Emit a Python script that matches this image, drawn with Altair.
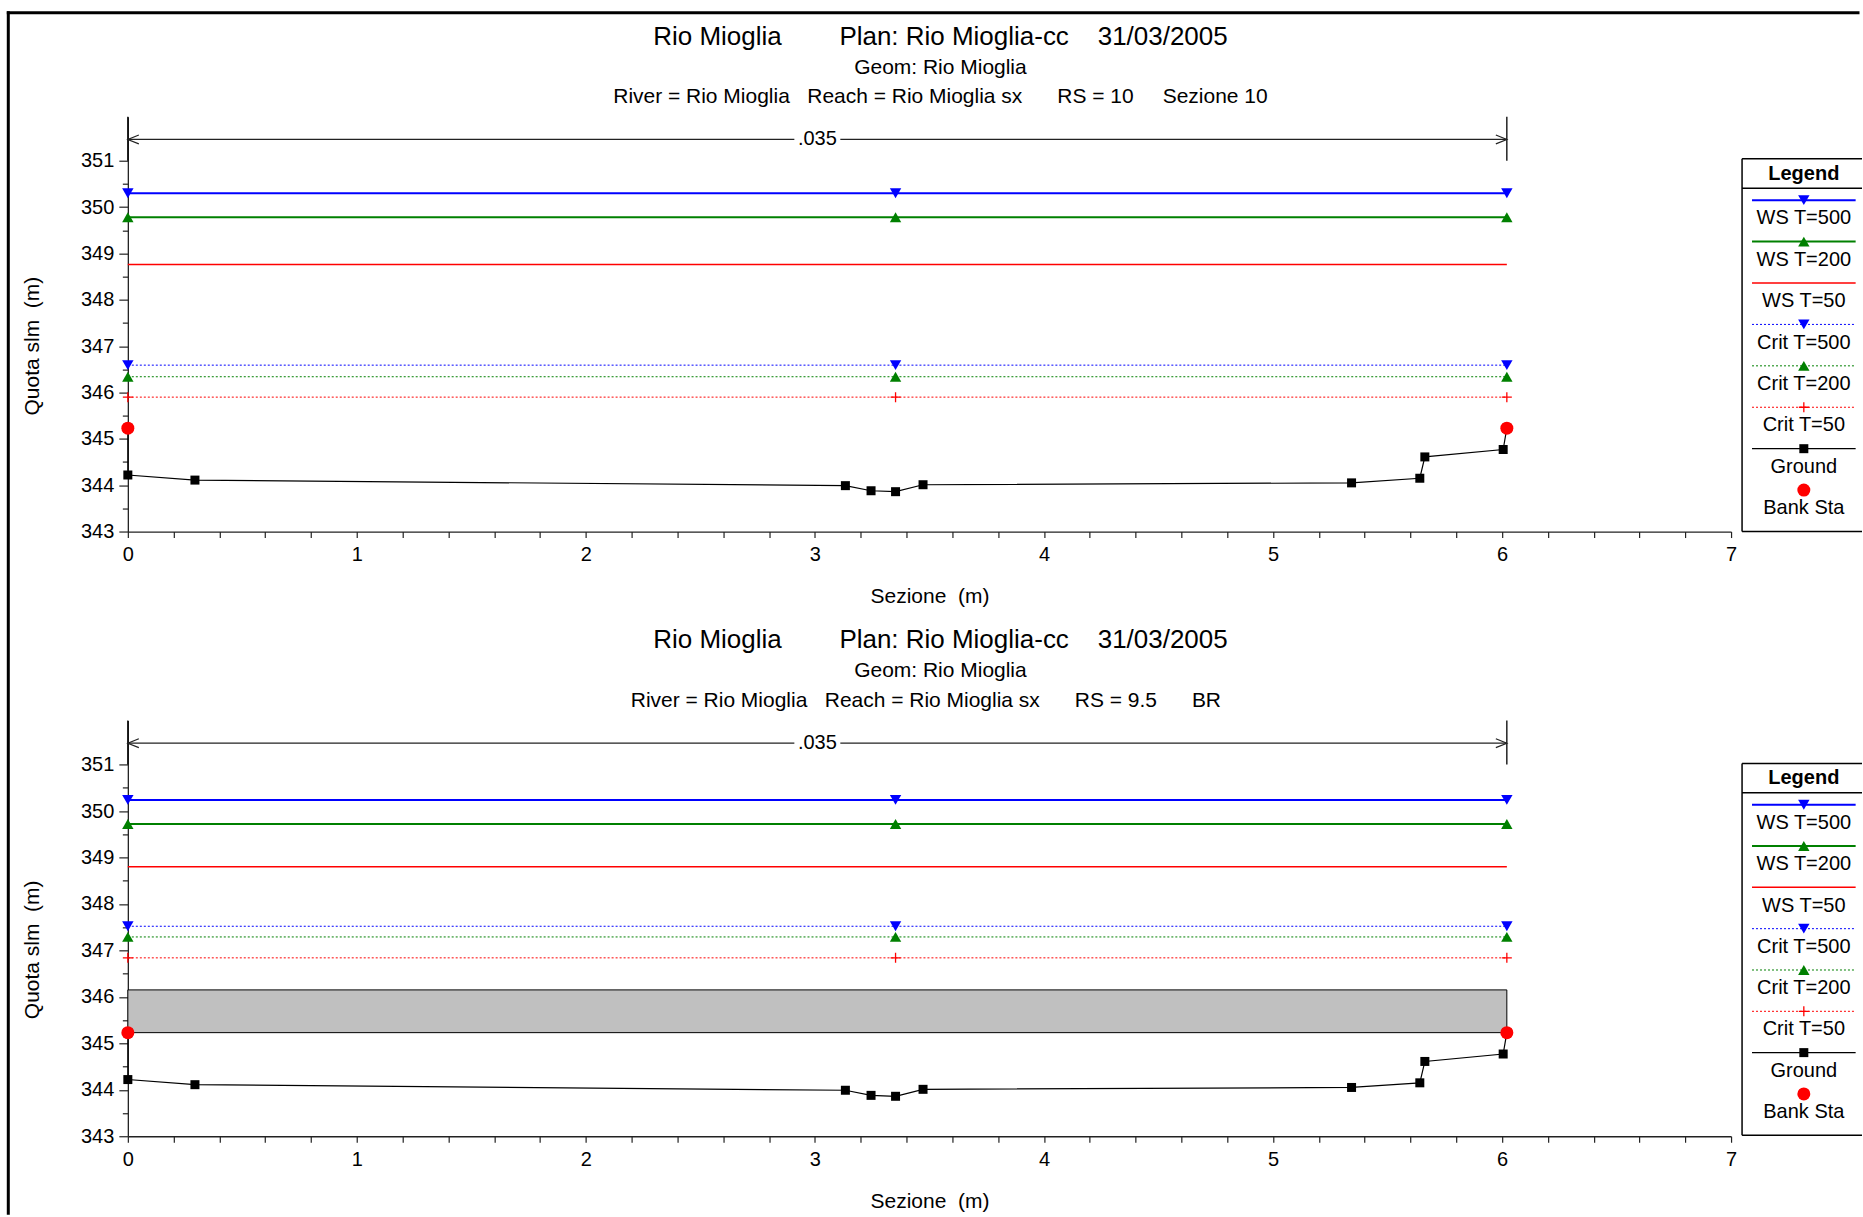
import altair as alt
import pandas as pd

FONT = "Liberation Sans"
NB = "\u00a0"
ZW = "\u200b"

# ---------------------------------------------------------------------------
# Cross-section data: stations (m) and elevations (m a.s.l.)
# ---------------------------------------------------------------------------
ground_sta = [0.0, 0.0, 0.293, 3.133, 3.245, 3.352, 3.472, 5.343, 5.641, 5.663, 6.005, 6.021]
ground_elev = [345.23, 344.22, 344.11, 343.99, 343.88, 343.86, 344.01, 344.05, 344.15, 344.61, 344.77, 345.23]

bank_sta = [0.0, 6.021]
bank_elev = [345.23, 345.23]

# stations where the profile symbols are placed
symbol_sta = [0.0, 3.352, 6.021]

profiles = ["WS T=500", "WS T=200", "WS T=50", "Crit T=500", "Crit T=200", "Crit T=50"]
elev_rs10 = [350.30, 349.78, 348.76, 346.59, 346.34, 345.90]
elev_rs95 = [350.24, 349.72, 348.80, 347.52, 347.29, 346.84]

# bridge deck at RS 9.5: low chord / high chord
deck_sta = [0.0, 6.021]
deck_elev = [345.23, 346.15]

# Manning's n zone
manning_n = ".035"
manning_sta = [0.0, 6.021]
manning_elev = 351.46
manning_bar_low = 351.0

legend_names = profiles + ["Ground", "Bank Sta"]

title_main = "Rio Mioglia" + NB * 8 + "Plan: Rio Mioglia-cc" + NB * 4 + "31/03/2005"
title_geom = "Geom: Rio Mioglia"
title_rs10 = ("River = Rio Mioglia" + NB * 3 + "Reach = Rio Mioglia sx" + NB * 6
              + "RS = 10" + NB * 5 + "Sezione 10")
title_rs95 = ("River = Rio Mioglia" + NB * 3 + "Reach = Rio Mioglia sx" + NB * 6
              + "RS = 9.5" + NB * 6 + "BR" + NB * 5 + ZW)

# ---------------------------------------------------------------------------
# Styles
# ---------------------------------------------------------------------------
PLUS = "M-1,0L1,0M0,-1L0,1"
STYLE = {
    "WS T=500": dict(color="#0000ff", width=2.0, dash=None, shape="triangle-down", size=130),
    "WS T=200": dict(color="#008000", width=2.0, dash=None, shape="triangle-up", size=130),
    "WS T=50": dict(color="#ff0000", width=1.5, dash=None, shape=None, size=0),
    "Crit T=500": dict(color="#0000ff", width=1.0, dash=[2, 2], shape="triangle-down", size=130),
    "Crit T=200": dict(color="#008000", width=1.0, dash=[2, 2], shape="triangle-up", size=130),
    "Crit T=50": dict(color="#ff0000", width=1.0, dash=[2, 2], shape=PLUS, size=100),
    "Ground": dict(color="black", width=1.2, dash=None, shape="square", size=81),
    "Bank Sta": dict(color="#ff0000", width=0, dash=None, shape="circle", size=169),
}


def symbol_props(name):
    st = STYLE[name]
    if st["shape"] == PLUS:
        return dict(shape=PLUS, filled=False, color=st["color"], strokeWidth=1.3,
                    size=st["size"], opacity=1)
    return dict(shape=st["shape"], filled=True, color=st["color"], size=st["size"],
                opacity=1, strokeWidth=0)


def line_props(name):
    st = STYLE[name]
    kw = dict(color=st["color"], strokeWidth=st["width"])
    if st["dash"]:
        kw["strokeDash"] = st["dash"]
    return kw


# ---------------------------------------------------------------------------
# Scales and axes of the section plots
# ---------------------------------------------------------------------------
PLOT_W = 1604
X_DOMAIN = [0, 7]
Y_DOMAIN = [343, 351.95]
x_ticks = [round(0.2 * i, 1) for i in range(36)]
y_ticks = [343 + 0.5 * i for i in range(17)]

X_SCALE = alt.Scale(domain=X_DOMAIN, nice=False, zero=False)
Y_SCALE = alt.Scale(domain=Y_DOMAIN, nice=False, zero=False)

AXIS_STYLE = dict(
    grid=False, labelFlush=False, labelOverlap=False,
    domainColor="#222", domainWidth=1.3, tickColor="#222", tickWidth=1.2,
    labelFont=FONT, labelFontSize=20, labelColor="black",
    titleFont=FONT, titleFontSize=21, titleFontWeight="normal", titleColor="black",
    titleAlign="center", titleBaseline="middle",
)
X_AXIS = alt.Axis(
    title="Sezione" + NB * 2 + "(m)", values=x_ticks,
    labelExpr="datum.value % 1 === 0 ? format(datum.value, 'd') : ''",
    tickSize=6, labelPadding=7, titleX=PLOT_W / 2, titleY=65, **AXIS_STYLE,
)
Y_AXIS = alt.Axis(
    title="Quota slm" + NB * 2 + "(m)", values=y_ticks,
    labelExpr="datum.value % 1 === 0 ? format(datum.value, 'd') : ''",
    tickSize={"condition": {"test": "datum.value % 1 === 0", "value": 9}, "value": 5.5},
    labelPadding=5, titleX=-95, titleY=229, **AXIS_STYLE,
)


def xq(field):
    return alt.X(field, type="quantitative", scale=X_SCALE, axis=X_AXIS)


def yq(field):
    return alt.Y(field, type="quantitative", scale=Y_SCALE, axis=Y_AXIS)


def section_layers(elevs, with_deck):
    layers = []
    if with_deck:
        d = pd.DataFrame({"s0": [deck_sta[0]], "s1": [deck_sta[1]],
                          "lo": [deck_elev[0]], "hi": [deck_elev[1]]})
        layers.append(alt.Chart(d).mark_rect(fill="#c0c0c0", stroke="black", strokeWidth=1).encode(
            x=xq("s0"), x2=alt.X2("s1"), y=yq("lo"), y2=alt.Y2("hi")))

    # Manning's n band: arrowed line broken around its label
    n_mid = (manning_sta[0] + manning_sta[1]) / 2
    half_gap = 23 / (PLOT_W / (X_DOMAIN[1] - X_DOMAIN[0]))
    seg = pd.DataFrame({"s0": [manning_sta[0], n_mid + half_gap],
                        "s1": [n_mid - half_gap, manning_sta[1]],
                        "z": [manning_elev, manning_elev]})
    layers.append(alt.Chart(seg).mark_rule(color="#222", strokeWidth=1.2).encode(
        x=xq("s0"), x2=alt.X2("s1"), y=yq("z")))
    bars = pd.DataFrame({"s": manning_sta, "lo": [manning_bar_low] * 2, "hi": [Y_DOMAIN[1]] * 2})
    layers.append(alt.Chart(bars).mark_rule(color="black", strokeWidth=1.3).encode(
        x=xq("s"), y=yq("lo"), y2=alt.Y2("hi")))
    for s, path in [(manning_sta[0], "M2,-0.8L0,0L2,0.8"), (manning_sta[1], "M-2,-0.8L0,0L-2,0.8")]:
        d = pd.DataFrame({"s": [s], "z": [manning_elev]})
        layers.append(alt.Chart(d).mark_point(shape=path, filled=False, color="#222",
                                              strokeWidth=1.2, size=121, opacity=1).encode(
            x=xq("s"), y=yq("z")))
    lab = pd.DataFrame({"s": [n_mid], "z": [manning_elev], "t": [manning_n]})
    layers.append(alt.Chart(lab).mark_text(fontSize=20, font=FONT, color="black",
                                           align="center", baseline="middle").encode(
        x=xq("s"), y=yq("z"), text="t:N"))

    # water surface and critical depth profiles
    for name, z in zip(profiles, elevs):
        d = pd.DataFrame({"s0": [bank_sta[0]], "s1": [bank_sta[1]], "z": [z]})
        layers.append(alt.Chart(d).mark_rule(**line_props(name)).encode(
            x=xq("s0"), x2=alt.X2("s1"), y=yq("z")))
    for name, z in zip(profiles, elevs):
        if STYLE[name]["shape"] is None:
            continue
        d = pd.DataFrame({"s": symbol_sta, "z": [z] * len(symbol_sta)})
        layers.append(alt.Chart(d).mark_point(**symbol_props(name)).encode(x=xq("s"), y=yq("z")))

    # ground profile and bank stations
    g = pd.DataFrame({"i": list(range(len(ground_sta))), "s": ground_sta, "z": ground_elev})
    layers.append(alt.Chart(g).mark_line(**line_props("Ground")).encode(
        x=xq("s"), y=yq("z"), order="i:Q"))
    layers.append(alt.Chart(g).mark_point(**symbol_props("Ground")).encode(x=xq("s"), y=yq("z")))
    b = pd.DataFrame({"s": bank_sta, "z": bank_elev})
    layers.append(alt.Chart(b).mark_point(**symbol_props("Bank Sta")).encode(x=xq("s"), y=yq("z")))
    return layers


# ---------------------------------------------------------------------------
# Boxed legend drawn beside each plot, on its own scales
# ---------------------------------------------------------------------------
LEG_X = [1615, 1735]
LEG_LINE = [0.083, 0.947]
LEG_CENTER = 0.515


def legend_layers(y_range):
    lxs = alt.Scale(domain=[0, 1], range=LEG_X, nice=False, zero=False)
    lys = alt.Scale(domain=[-1, len(legend_names)], range=y_range, nice=False, zero=False)

    def lx(f):
        return alt.X(f, type="quantitative", scale=lxs, axis=None)

    def ly(f):
        return alt.Y(f, type="quantitative", scale=lys, axis=None)

    n = len(legend_names)
    layers = []
    box_v = pd.DataFrame({"x": [0], "y": [-1], "y2": [n]})
    layers.append(alt.Chart(box_v).mark_rule(color="black", strokeWidth=1.5).encode(
        x=lx("x"), y=ly("y"), y2=alt.Y2("y2")))
    box_h = pd.DataFrame({"x": [0, 0, 0], "x2": [1, 1, 1], "y": [-1, -0.29, n]})
    layers.append(alt.Chart(box_h).mark_rule(color="black", strokeWidth=1.5).encode(
        x=lx("x"), x2=alt.X2("x2"), y=ly("y")))
    head = pd.DataFrame({"x": [LEG_CENTER], "y": [-0.638], "t": ["Legend"]})
    layers.append(alt.Chart(head).mark_text(fontSize=20, fontWeight="bold", font=FONT, color="black",
                                            align="center", baseline="middle").encode(
        x=lx("x"), y=ly("y"), text="t:N"))

    for i, name in enumerate(legend_names):
        st = STYLE[name]
        if st["width"] > 0:
            d = pd.DataFrame({"x": [LEG_LINE[0]], "x2": [LEG_LINE[1]], "y": [i]})
            layers.append(alt.Chart(d).mark_rule(**line_props(name)).encode(
                x=lx("x"), x2=alt.X2("x2"), y=ly("y")))
        if st["shape"] is not None:
            d = pd.DataFrame({"x": [LEG_CENTER], "y": [i]})
            layers.append(alt.Chart(d).mark_point(**symbol_props(name)).encode(x=lx("x"), y=ly("y")))
        d = pd.DataFrame({"x": [LEG_CENTER], "y": [i + 0.44], "t": [name]})
        layers.append(alt.Chart(d).mark_text(fontSize=20, font=FONT, color="black",
                                             align="center", baseline="middle").encode(
            x=lx("x"), y=ly("y"), text="t:N"))
    return layers


def panel(elevs, with_deck, rs_line, height, legend_range):
    plot = alt.layer(*section_layers(elevs, with_deck))
    legend = alt.layer(*legend_layers(legend_range))
    return alt.layer(plot, legend).resolve_scale(x="independent", y="independent").properties(
        width=PLOT_W, height=height,
        title=alt.TitleParams(
            text=title_main, subtitle=[title_geom, rs_line],
            font=FONT, fontSize=26, fontWeight="normal", color="black",
            subtitleFont=FONT, subtitleFontSize=21, subtitleColor="black",
            subtitleLineHeight=29.5, subtitlePadding=7,
            anchor="middle", frame="group", offset=9, dx=11,
        ),
    )


top = panel(elev_rs10, False, title_rs10, 415, [42, 415])
bottom = panel(elev_rs95, True, title_rs95, 416, [43, 415])

# page frame (left and top border), held by a tiny view between the two sections
frame_df = pd.DataFrame({"edge": ["frame"]})
frame_left = alt.Chart(frame_df).mark_rule(color="black", strokeWidth=3, strokeCap="square").encode(
    x=alt.value(-119.6), y=alt.value(-613), y2=alt.value(588))
frame_top = alt.Chart(frame_df).mark_rule(color="black", strokeWidth=3, strokeCap="square").encode(
    x=alt.value(-119.6), x2=alt.value(1731), y=alt.value(-613))
frame = alt.layer(frame_left, frame_top).properties(width=1, height=1)

chart = alt.vconcat(top, frame, bottom, spacing=94, bounds="flush").properties(
    padding={"left": 5.9, "top": 9.5, "right": 0, "bottom": 0},
    background="white",
).configure(font=FONT).configure_view(stroke=None)

chart.save("out.html", embed_options={"renderer": "svg", "actions": False})
